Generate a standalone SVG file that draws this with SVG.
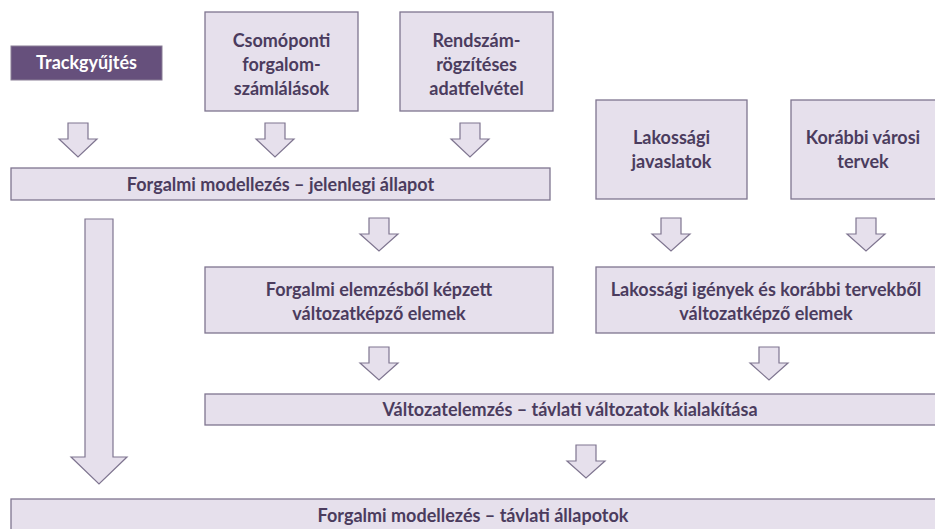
<svg xmlns="http://www.w3.org/2000/svg" width="935" height="529" viewBox="0 0 935 529">
  <style>
    .box { fill: #E6E0EC; stroke: #7F7590; stroke-width: 1.3; }
    .dark { fill: #66507C; stroke: #8A7F96; stroke-width: 1; }
    .arr { fill: #E6E0EC; stroke: #7F7590; stroke-width: 1.2; stroke-linejoin: miter; }
    text { font-family: "Lato", "Liberation Sans", sans-serif; font-weight: bold; font-size: 18px; fill: #4B3C5E; text-anchor: middle; }
    .w { fill: #FFFFFF; }
  </style>
  <rect width="935" height="529" fill="#FFFFFF"/>

  <g id="connectors">
    <path class="arr" d="M68,123 H88 V139 H97 L78,157 L59,139 H68 Z"/>
    <path class="arr" d="M265,123 H285 V139 H294 L275,157 L256,139 H265 Z"/>
    <path class="arr" d="M460,123 H480 V139 H489 L470,157 L451,139 H460 Z"/>
    <path id="bigArrow" class="arr" d="M85,219 H113 V457 H127 L99,484 L71,457 H85 Z"/>
    <path class="arr" d="M369,218 H389 V234 H398 L379,251 L360,234 H369 Z"/>
    <path class="arr" d="M661,218 H681 V234 H690 L671,251 L652,234 H661 Z"/>
    <path class="arr" d="M856,218 H876 V234 H885 L866,251 L847,234 H856 Z"/>
    <path class="arr" d="M369,347 H389 V363 H398 L379,380 L360,363 H369 Z"/>
    <path class="arr" d="M759,347 H779 V363 H788 L769,380 L750,363 H759 Z"/>
    <path class="arr" d="M576,445 H596 V461 H605 L586,478 L567,461 H576 Z"/>
  </g>

  <g id="trackgyujtes">
    <rect class="dark" x="11" y="46" width="151" height="34"/>
    <text class="w" x="86.5" y="69">Trackgyűjtés</text>
  </g>

  <g id="csomoponti">
    <rect class="box" x="205" y="12" width="153" height="99"/>
    <text x="281.5" y="47">Csomóponti</text>
    <text x="281.5" y="71">forgalom-</text>
    <text x="281.5" y="95">számlálások</text>
  </g>

  <g id="rendszam">
    <rect class="box" x="400" y="12" width="153" height="99"/>
    <text x="476.5" y="47">Rendszám-</text>
    <text x="476.5" y="71">rögzítéses</text>
    <text x="476.5" y="95">adatfelvétel</text>
  </g>

  <g id="jelenlegi">
    <rect class="box" x="11" y="168" width="539" height="32"/>
    <text x="280.5" y="191">Forgalmi modellezés – jelenlegi állapot</text>
  </g>

  <g id="lakossagi">
    <rect class="box" x="596" y="100" width="151" height="99"/>
    <text x="671.5" y="144">Lakossági</text>
    <text x="671.5" y="168">javaslatok</text>
  </g>

  <g id="korabbi">
    <rect class="box" x="791" y="100" width="150" height="99"/>
    <text x="863" y="144">Korábbi városi</text>
    <text x="863" y="168">tervek</text>
  </g>

  <g id="forgalmi-elemek">
    <rect class="box" x="205" y="267" width="348" height="66"/>
    <text x="379" y="296">Forgalmi elemzésből képzett</text>
    <text x="379" y="320">változatképző elemek</text>
  </g>

  <g id="lakossagi-elemek">
    <rect class="box" x="596" y="267" width="345" height="66"/>
    <text x="766" y="296">Lakossági igények és korábbi tervekből</text>
    <text x="766" y="320">változatképző elemek</text>
  </g>

  <g id="valtozatelemzes">
    <rect class="box" x="205" y="394" width="736" height="31"/>
    <text x="570" y="416">Változatelemzés – távlati változatok kialakítása</text>
  </g>

  <g id="tavlati">
    <rect class="box" x="11" y="499" width="930" height="36"/>
    <text x="473" y="522">Forgalmi modellezés – távlati állapotok</text>
  </g>
</svg>
